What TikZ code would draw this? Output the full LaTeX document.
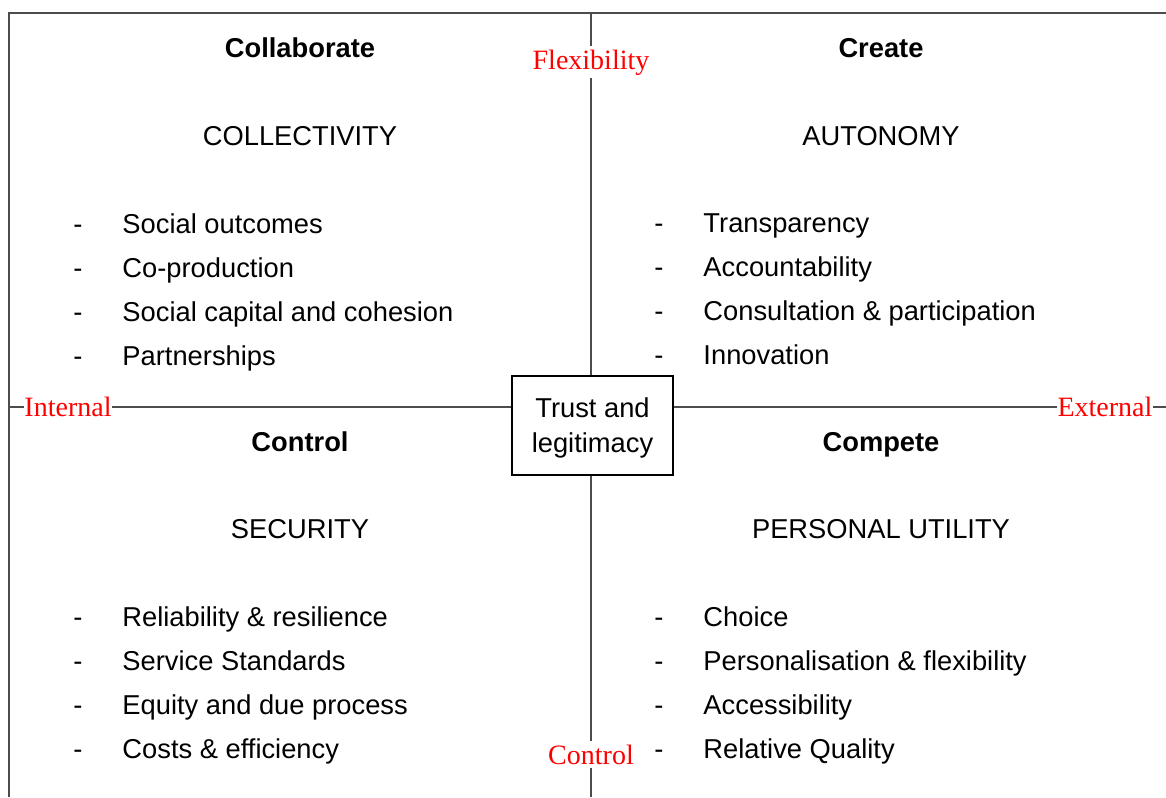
\documentclass[tikz,border=0pt]{standalone}
\usepackage{fontspec}
\setmainfont{Liberation Sans}
\newfontfamily\axisfont{Liberation Serif}
\usetikzlibrary{positioning}
\newcommand{\itm}{-\hspace{20pt}}

\begin{document}
\begin{tikzpicture}[x=0.5pt,y=0.5pt]
\tikzset{head/.style={anchor=base,inner sep=0pt,
                      font=\fontsize{13.65}{16}\selectfont\bfseries},
         value/.style={anchor=base,inner sep=0pt,
                       font=\fontsize{13.65}{16}\selectfont},
         items/.style={anchor=north west,inner sep=0pt,align=left,
                       font=\fontsize{13.65}{22}\selectfont},
         axis/.style={anchor=base,inner xsep=0pt,inner ysep=1.5pt,text=red,
                      font=\axisfont\fontsize{14}{16}\selectfont},
         core/.style={draw,line width=1.2pt,
                      minimum width=80.5pt,
                      minimum height=49.5pt,
                      inner sep=0pt,
                      text height=29.8pt,
                      align=center,
                      font=\fontsize{13.65}{17.5}\selectfont},
         rule/.style={draw=black!70,line width=0.7pt}
}
\useasboundingbox (0,0) rectangle (1166,-797);
\coordinate (NW) at (9,-13);
\coordinate (NE) at (1166,-13);
\coordinate (SW) at (9,-797);
\draw[rule] (SW) -- (NW) -- (NE);
\node[core] (T) at (592.5,-425.5) {Trust and\\legitimacy};
% axis labels
\node[axis] (Flex) at (591,-69)  {Flexibility};
\node[axis] (Ctrl) at (591,-764) {Control};
\node[axis] (Int)  at (68,-416.5)  {Internal};
\node[axis] (Ext)  at (1105,-416.5) {External};
\draw[rule] (Flex |- NW) -- (Flex);
\draw[rule] (Flex) -- (Flex |- T.north);
\draw[rule] (Ctrl |- SW) -- (Ctrl);
\draw[rule] (Ctrl) -- (Ctrl |- T.south);
\draw[rule] (Int -| NW) -- (Int);
\draw[rule] (Int) -- (Int -| T.west);
\draw[rule] (Ext -| NE) -- (Ext);
\draw[rule] (Ext) -- (Ext -| T.east);
% top left
\node[head]  (h1) at (300,-58)  {Collaborate};
\node[value] (v1) at (300,-145) {COLLECTIVITY};
\node[items] (l1) at (73,-213) {\itm Social outcomes\\
                                \itm Co-production\\
                                \itm Social capital and cohesion\\
                                \itm Partnerships};
% top right
\node[head]  (h2) at (881,-58)  {Create};
\node[value] (v2) at (881,-145) {AUTONOMY};
\node[items] (l2) at (654,-213) {\itm Transparency\\
                                 \itm Accountability\\
                                 \itm Consultation \& participation\\
                                 \itm Innovation};
% bottom left
\node[head]  (h3) at (300,-451) {Control};
\node[value] (v3) at (300,-538) {SECURITY};
\node[items] (l3) at (73,-606) {\itm Reliability \& resilience\\
                                \itm Service Standards\\
                                \itm Equity and due process\\
                                \itm Costs \& efficiency};
% bottom right
\node[head]  (h4) at (881,-451) {Compete};
\node[value] (v4) at (881,-538) {PERSONAL UTILITY};
\node[items] (l4) at (654,-606) {\itm Choice\\
                                 \itm Personalisation \& flexibility\\
                                 \itm Accessibility\\
                                 \itm Relative Quality};
\end{tikzpicture}
\end{document}
